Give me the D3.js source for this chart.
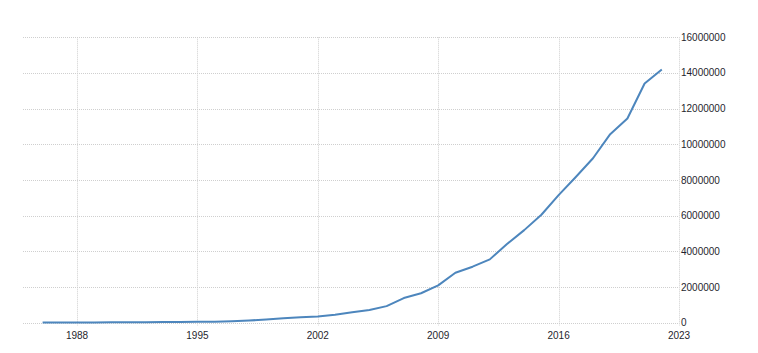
<!DOCTYPE html>
<html><head><meta charset="utf-8">
<script src="https://cdn.jsdelivr.net/npm/d3@7"></script>
<style>body{margin:0;background:#fff}svg{display:block}text{font-family:"Liberation Sans",Arial,sans-serif;font-size:10px;fill:#1f1f2e}</style>
</head><body><svg id="c" width="758" height="353"></svg>
<script>
const years = [1986,1987,1988,1989,1990,1991,1992,1993,1994,1995,1996,1997,1998,1999,2000,2001,2002,2003,2004,2005,2006,2007,2008,2009,2010,2011,2012,2013,2014,2015,2016,2017,2018,2019,2020,2021,2022];
const values = [10000,12000,15000,18000,22000,27000,32000,38000,45000,52000,60000,80000,120000,180000,250000,300000,350000,440000,580000,710000,930000,1380000,1650000,2090000,2800000,3140000,3550000,4410000,5190000,6050000,7150000,8170000,9220000,10570000,11450000,13410000,14200000];
const xTicks = [1988,1995,2002,2009,2016,2023];
const yTicks = [0,2000000,4000000,6000000,8000000,10000000,12000000,14000000,16000000];

(function(){
const svg = d3.select("#c");
const pL = 23, pR = 679, pT = 37.3, pB = 322.7;
const x = d3.scaleLinear().domain([1984.86, 2023]).range([pL, pR]);
const y = d3.scaleLinear().domain([0, 16000000]).range([pB, pT]);

const g = svg.append("g");
g.selectAll("line.h").data(yTicks).enter().append("line")
  .attr("x1", pL).attr("x2", pR)
  .attr("y1", d => Math.round(y(d)) + 0.5).attr("y2", d => Math.round(y(d)) + 0.5)
  .attr("stroke", "#cfcfcf").attr("stroke-dasharray", "1,1");
g.selectAll("line.v").data(xTicks).enter().append("line")
  .attr("x1", d => Math.round(x(d)) + 0.5).attr("x2", d => Math.round(x(d)) + 0.5)
  .attr("y1", pT).attr("y2", pB + 3)
  .attr("stroke", "#cfcfcf").attr("stroke-dasharray", "1,1");

g.selectAll("text.y").data(yTicks).enter().append("text")
  .attr("x", pR + 2).attr("y", d => y(d)).attr("dy", "0.35em")
  .text(d => d3.format("d")(d));
g.selectAll("text.x").data(xTicks).enter().append("text")
  .attr("x", d => x(d)).attr("y", 339).attr("text-anchor", "middle")
  .text(d => d);

const line = d3.line().x((d, i) => x(years[i])).y(d => y(d));
svg.append("path").datum(values).attr("d", line)
  .attr("fill", "none").attr("stroke", "#4d86bd").attr("stroke-width", 2)
  .attr("stroke-linejoin", "round");
})();
</script></body></html>
